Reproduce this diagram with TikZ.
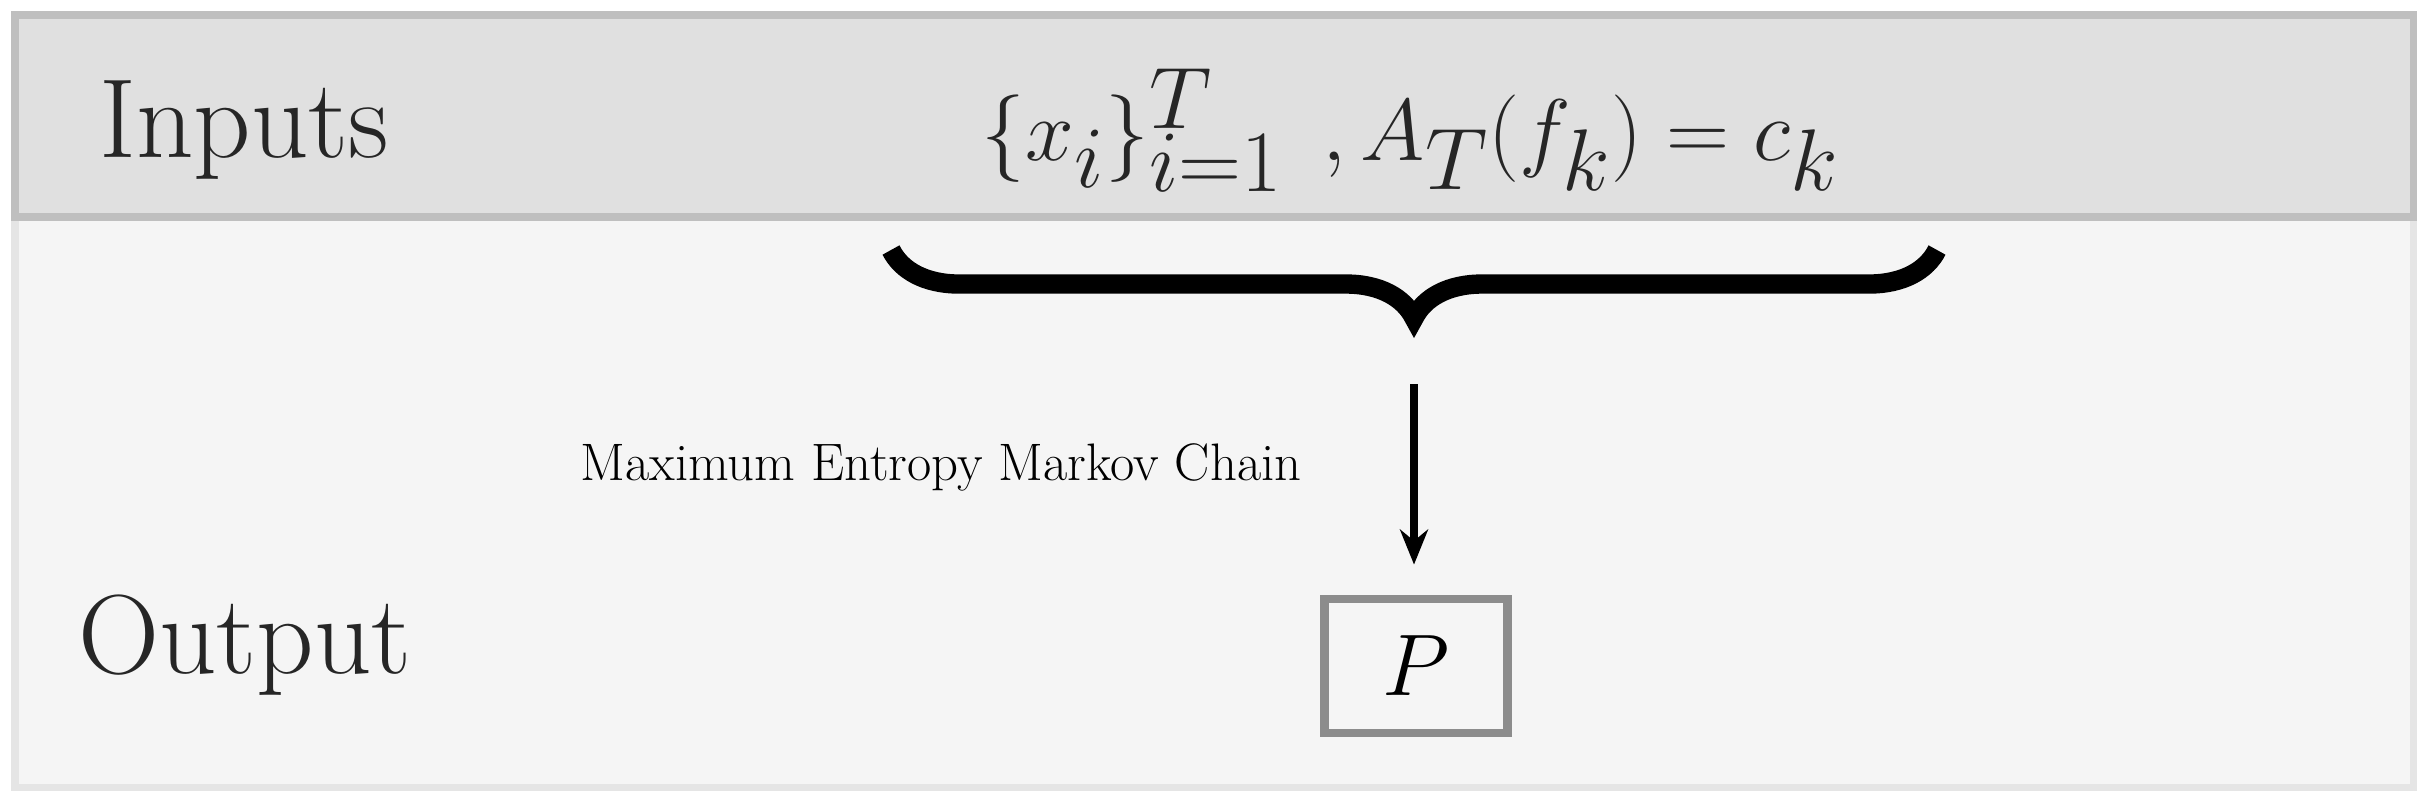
\documentclass[tikz,border=0pt]{standalone}
\usetikzlibrary{decorations.pathreplacing,arrows.meta}
\begin{document}
\begin{tikzpicture}[x=0.01cm,y=-0.01cm,
  band/.style={draw=black!25,line width=2pt},
  lbl/.style={font=\fontsize{32}{36}\selectfont,text=black!85}]
\useasboundingbox (0,0) rectangle (2431,805);
\fill[black!4] (15,15) rectangle (2413,787);
\fill[black!12] (15,15) rectangle (2413,217);
\draw[draw=black!10,line width=2pt] (15,217) rectangle (2413,787);
\draw[band] (15,15) rectangle (2413,217);
\node[lbl] (inp) at (244,130) {Inputs};
\node[lbl] (out) at (245,645) {Output};
\node[font=\fontsize{37}{42}\selectfont,text=black!85] (form) at (1411,130) {$\{x_i\}_{i=1}^{T}\ ,A_T(f_k)=c_k$};
\draw[line width=5.5pt,decorate,decoration={brace,mirror,amplitude=0.68cm}] (891,250) -- (1937,250);
\coordinate (tip) at (1414,384);
\node[draw=black!45,line width=2.5pt,minimum width=1.83cm,minimum height=1.34cm,
  font=\fontsize{36}{40}\selectfont] (p) at (1416,666) {$P$};
\draw[line width=2.5pt,-{Stealth[length=0.35cm,width=0.28cm]}] (tip) -- ([yshift=0.3cm]p.north -| tip);
\node[font=\fontsize{15}{18}\selectfont] (lab) at (941,467) {Maximum Entropy Markov Chain};
\end{tikzpicture}
\end{document}
